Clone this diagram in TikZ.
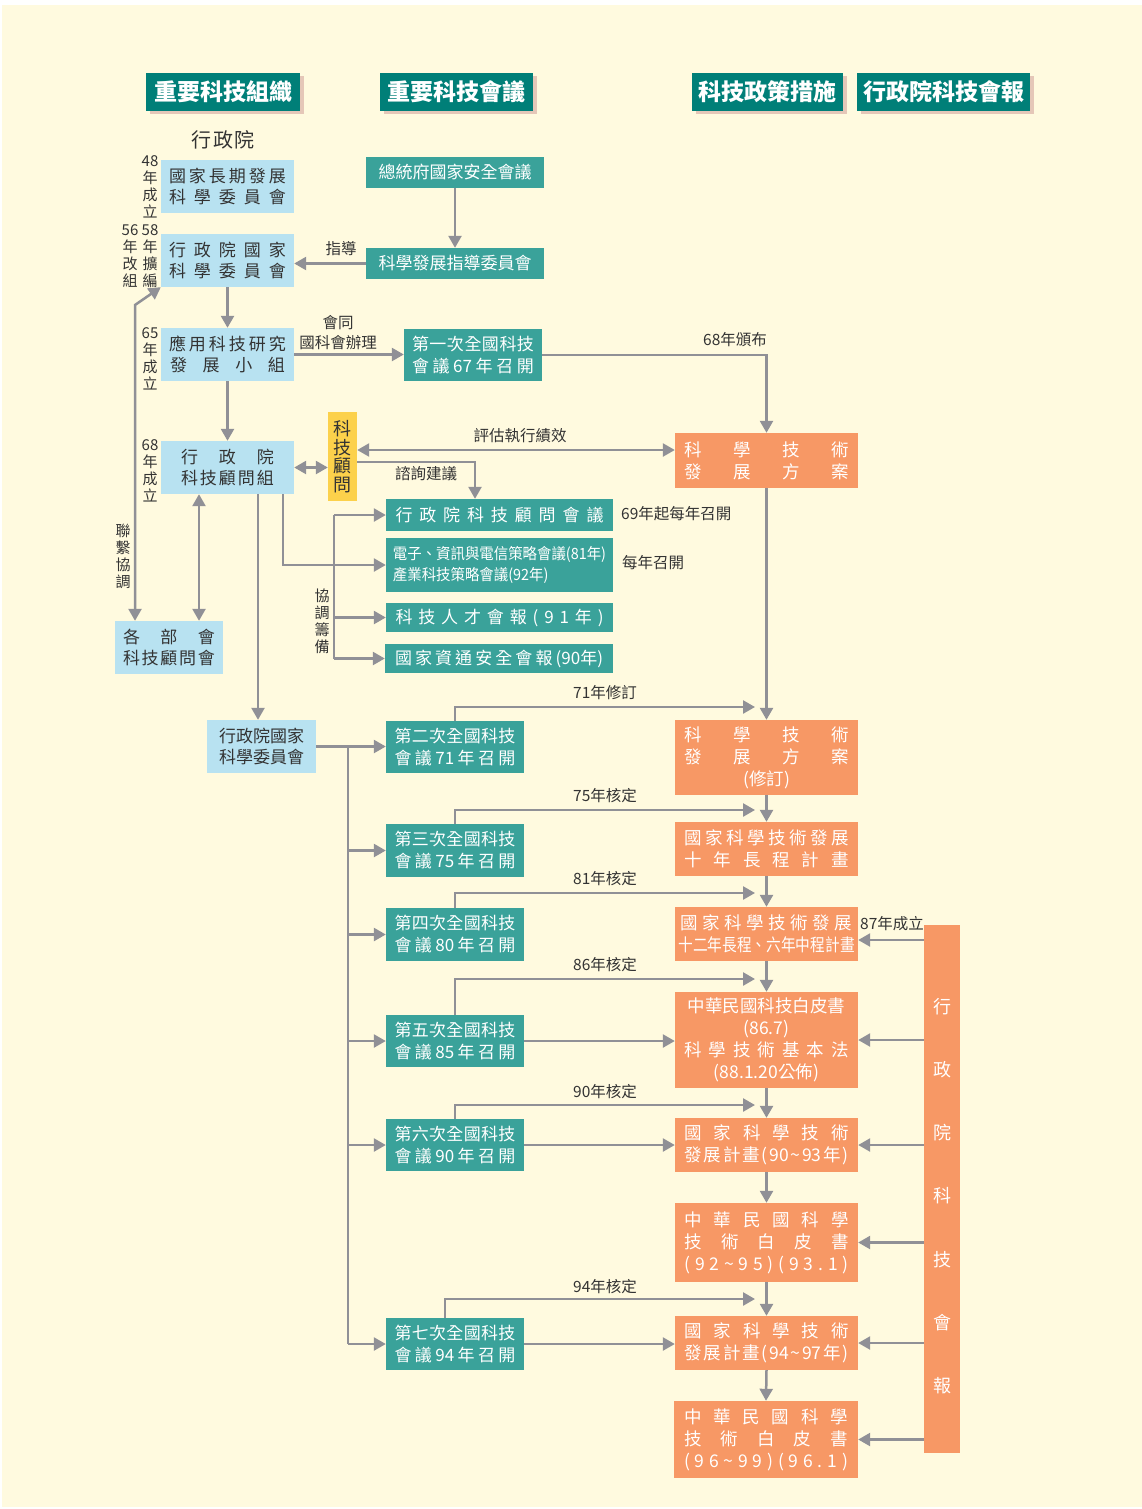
\documentclass[tikz,border=0pt]{standalone}
\usepackage{fontspec}
\usepackage{graphicx}
\usetikzlibrary{arrows.meta}
\setmainfont{Noto Sans CJK TC}
\definecolor{bg}{HTML}{FFFADF}
\definecolor{hdr}{HTML}{007F78}
\definecolor{hsh}{HTML}{E5C7B8}
\definecolor{tl}{HTML}{3AA29A}
\definecolor{lb}{HTML}{B8E2F1}
\definecolor{og}{HTML}{F79865}
\definecolor{yl}{HTML}{FCD14B}
\definecolor{ar}{HTML}{909096}
\definecolor{tx}{HTML}{333333}
\ExplSyntaxOn
\bool_new:N \l_sp_first_bool
\NewDocumentCommand\SP{mm}{\makebox[#1][s]{\bool_set_true:N \l_sp_first_bool \tl_map_inline:nn {#2}{\bool_if:NF \l_sp_first_bool {\hfill}\bool_set_false:N \l_sp_first_bool ##1}}}
\ExplSyntaxOff
\newcommand\bx[7]{\node[#6,minimum width={#4-#2},minimum height={#5-#3}] (#1) at ({(#2+#4)/2},{(#3+#5)/2}) {#7};}
\newcommand\hd[6]{\fill[hsh] ({#2+4},{#3+3}) rectangle ({#4+4},{#5+3});
  \node[hdrbox,minimum width={#4-#2},minimum height={#5-#3}] (#1) at ({(#2+#4)/2},{(#3+#5)/2}) {#6};}
\tikzset{
  hdrbox/.style={fill=hdr,text=white,inner sep=0,font=\fontsize{23}{24}\selectfont\bfseries},
  lbbox/.style={fill=lb,text=tx,inner sep=0,align=center,font=\fontsize{17}{21.5}\selectfont},
  tlbox/.style={fill=tl,text=white,inner sep=0,align=center,font=\fontsize{17}{22}\selectfont},
  ogbox/.style={fill=og,text=white,inner sep=0,align=center,font=\fontsize{17.5}{22}\selectfont},
  ybox/.style={fill=yl,text=tx,inner sep=0,align=center,font=\fontsize{18}{18.6}\selectfont},
  lbl/.style={text=tx,inner sep=0,font=\fontsize{15.5}{17}\selectfont},
  side/.style={text=tx,inner sep=0,align=center,font=\fontsize{15}{17}\selectfont},
  ln/.style={draw=ar,line width=2.5pt},
  arr/.style={ln,-{Triangle[length=12pt,width=13pt]}},
  darr/.style={ln,{Triangle[length=12pt,width=13pt]}-{Triangle[length=12pt,width=13pt]}},
}
\begin{document}
\begin{tikzpicture}[x=1pt,y=-1pt]
\useasboundingbox (0,0) rectangle (1142,1509);
\fill[white] (0,0) rectangle (1142,1509);
\fill[bg] (2,5) rectangle (1142,1507);
% headers
\hd{h1}{146}{73}{300}{111}{重要科技組織}
\hd{h2}{380}{73}{533}{111}{重要科技會議}
\hd{h3}{692}{73}{843}{111}{科技政策措施}
\hd{h4}{857}{73}{1030}{111}{行政院科技會報}
\node[lbl,font=\fontsize{20}{22}\selectfont] (xzy) at (223,140) {\SP{63pt}{行政院}};
% light blue boxes
\bx{A}{161}{160}{294}{213}{lbbox}{\SP{117pt}{國家長期發展}\\\SP{117pt}{科學委員會}}
\bx{B}{161}{234}{294}{287}{lbbox}{\SP{117pt}{行政院國家}\\\SP{117pt}{科學委員會}}
\bx{C}{161}{328}{294}{381}{lbbox}{\SP{117pt}{應用科技研究}\\\SP{115pt}{發展小組}}
\bx{D}{161}{441}{294}{494}{lbbox}{\SP{93pt}{行政院}\\\SP{93pt}{科技顧問組}}
\bx{E}{115}{621}{223}{674}{lbbox}{\SP{92pt}{各部會}\\\SP{92pt}{科技顧問會}}
\bx{F}{207}{720}{316}{773}{lbbox}{行政院國家\\科學委員會}
\bx{Y}{328}{412}{357}{501}{ybox}{科\\技\\顧\\問}
% side labels
\node[side] (sA) at (150,187) {48\\年\\成\\立};
\node[side] (sB1) at (130,256) {56\\年\\改\\組};
\node[side] (sB2) at (150,256) {58\\年\\擴\\編};
\node[side] (sC) at (150,359) {65\\年\\成\\立};
\node[side] (sD) at (150,471) {68\\年\\成\\立};
\node[side] (sE) at (123,556) {聯\\繫\\協\\調};
\node[side] (sY) at (322,621) {協\\調\\籌\\備};
% teal boxes
\bx{T1}{366}{157}{544}{188}{tlbox}{總統府國家安全會議}
\bx{T2}{366}{248}{544}{279}{tlbox}{科學發展指導委員會}
\bx{T3}{404}{329}{542}{381}{tlbox}{\SP{122pt}{第一次全國科技}\\\SP{122pt}{會議{67}年召開}}
\bx{T4}{386}{499}{613}{531}{tlbox}{\SP{208pt}{行政院科技顧問會議}}
\bx{T5}{386}{538}{613}{592}{tlbox,align=left,font=\fontsize{15.5}{21}\selectfont}{\scalebox{0.93}[1]{電子、資訊與電信策略會議(81年)}\\\scalebox{0.93}[1]{產業科技策略會議(92年)}}
\bx{T6}{386}{603}{613}{632}{tlbox}{\SP{208pt}{科技人才會報(91年)}}
\bx{T7}{385}{644}{613}{673}{tlbox}{\SP{208pt}{國家資通安全會報{(90年)}}}
\bx{T8}{386}{721}{524}{773}{tlbox}{\SP{121pt}{第二次全國科技}\\\SP{121pt}{會議{71}年召開}}
\bx{T9}{386}{824}{524}{877}{tlbox}{\SP{121pt}{第三次全國科技}\\\SP{121pt}{會議{75}年召開}}
\bx{T10}{386}{908}{524}{961}{tlbox}{\SP{121pt}{第四次全國科技}\\\SP{121pt}{會議{80}年召開}}
\bx{T11}{386}{1015}{524}{1067}{tlbox}{\SP{121pt}{第五次全國科技}\\\SP{121pt}{會議{85}年召開}}
\bx{T12}{386}{1119}{524}{1171}{tlbox}{\SP{121pt}{第六次全國科技}\\\SP{121pt}{會議{90}年召開}}
\bx{T13}{386}{1318}{524}{1370}{tlbox}{\SP{121pt}{第七次全國科技}\\\SP{121pt}{會議{94}年召開}}
% orange boxes
\bx{O1}{675}{433}{858}{488}{ogbox}{\SP{164pt}{科學技術}\\\SP{164pt}{發展方案}}
\bx{O2}{675}{720}{858}{795}{ogbox}{\SP{164pt}{科學技術}\\\SP{164pt}{發展方案}\\(修訂)}
\bx{O3}{675}{822}{858}{876}{ogbox}{\SP{164pt}{國家科學技術發展}\\\SP{164pt}{十年長程計畫}}
\bx{O4}{675}{907}{858}{961}{ogbox}{\SP{172pt}{國家科學技術發展}\\\scalebox{0.84}[1]{十二年長程、六年中程計畫}}
\bx{O5}{675}{992}{858}{1088}{ogbox}{中華民國科技白皮書\\(86.7)\\\SP{164pt}{科學技術基本法}\\(88.1.20公佈)}
\bx{O6}{675}{1118}{858}{1172}{ogbox}{\SP{164pt}{國家科學技術}\\\SP{164pt}{發展計畫({90}{\textasciitilde}{93}年)}}
\bx{O7}{675}{1203}{858}{1282}{ogbox}{\SP{164pt}{中華民國科學}\\\SP{164pt}{技術白皮書}\\\SP{164pt}{(92{\textasciitilde}95)(93.1)}}
\bx{O8}{675}{1316}{858}{1370}{ogbox}{\SP{164pt}{國家科學技術}\\\SP{164pt}{發展計畫({94}{\textasciitilde}{97}年)}}
\bx{O9}{674}{1401}{858}{1478}{ogbox}{\SP{164pt}{中華民國科學}\\\SP{164pt}{技術白皮書}\\\SP{164pt}{(96{\textasciitilde}99)(96.1)}}
\bx{R}{924}{925}{960}{1453}{ogbox}{}
\node[text=white,inner sep=0,align=center,font=\fontsize{18}{63.2}\selectfont] (Rt) at (942,1196) {行\\政\\院\\科\\技\\會\\報};
% connectors, upper part
\draw[arr] (T1.south) -- (T2.north);
\draw[arr] (T2.west) -- (T2.west -| B.east);
\node[lbl] (l1) at (341,249) {指導};
\draw[arr] (B.south) -- (C.north);
\draw[arr] (C.east) -- (C.east -| T3.west);
\node[lbl] (l2) at (338,323) {會同};
\node[lbl] (l3) at (338,343) {國科會辦理};
\draw[arr] (C.south) -- (D.north);
\draw[darr] (D.east) -- (D.east -| Y.west);
\draw[darr] (Y.east |- 0,450) -- (O1.west |- 0,450);
\node[lbl] (l4) at (520,436) {評估執行績效};
\draw[arr] (Y.east |- 0,462) -| (T4.north -| 475,0);
\node[lbl] (l5) at (426,474) {諮詢建議};
\draw[arr] (T3.east) -| (O1.north);
\node[lbl] (l6) at (735,340) {68年頒布};
\coordinate (brT) at (T4.west -| 334,0);
\coordinate (brB) at (T7.west -| 334,0);
\draw[ln] (brT) -- (brB);
\draw[arr] (brT) -- (T4.west);
\draw[arr] (T6.west -| brT) -- (T6.west);
\draw[arr] (brB) -- (T7.west);
\draw[arr] (D.south -| 283,0) |- (T5.west);
\node[lbl,anchor=west] (l7) at (621,514) {69年起每年召開};
\node[lbl,anchor=west] (l8) at (622,563) {每年召開};
\draw[arr] (D.south -| 258,0) -- (F.north -| 258,0);
\draw[darr] (D.south -| 199,0) -- (E.north -| 199,0);
\draw[darr] (E.north -| 135,0) -- (135,305) -- (B.south west);
% lower part
\draw[arr] (F.east) -- (F.east -| T8.west);
\coordinate (tr) at (F.east -| 348,0);
\draw[ln] (tr) -- (T13.west -| tr);
\draw[arr] (T9.west -| tr) -- (T9.west);
\draw[arr] (T10.west -| tr) -- (T10.west);
\draw[arr] (T11.west -| tr) -- (T11.west);
\draw[arr] (T12.west -| tr) -- (T12.west);
\draw[arr] (T13.west -| tr) -- (T13.west);
\coordinate (k71) at (755,707);
\coordinate (k75) at (755,810);
\coordinate (k81) at (755,893);
\coordinate (k86) at (755,979);
\coordinate (k90) at (755,1105);
\coordinate (k94) at (755,1299);
\draw[arr] (T8.north) |- (k71);
\draw[arr] (T9.north) |- (k75);
\draw[arr] (T10.north) |- (k81);
\draw[arr] (T11.north) |- (k86);
\draw[arr] (T12.north) |- (k90);
\draw[arr] (T13.north -| 445,0) |- (k94);
\node[lbl] (m1) at (605,693) {71年修訂};
\node[lbl] (m2) at (605,796) {75年核定};
\node[lbl] (m3) at (605,879) {81年核定};
\node[lbl] (m4) at (605,965) {86年核定};
\node[lbl] (m5) at (605,1092) {90年核定};
\node[lbl] (m6) at (605,1287) {94年核定};
\draw[arr] (O1.south) -- (O2.north);
\draw[arr] (O2.south) -- (O3.north);
\draw[arr] (O3.south) -- (O4.north);
\draw[arr] (O4.south) -- (O5.north);
\draw[arr] (O5.south) -- (O6.north);
\draw[arr] (O6.south) -- (O7.north);
\draw[arr] (O7.south) -- (O8.north);
\draw[arr] (O8.south) -- (O9.north);
\draw[arr] (T11.east) -- (T11.east -| O5.west);
\draw[arr] (T12.east) -- (T12.east -| O6.west);
\draw[arr] (T13.east) -- (T13.east -| O8.west);
\draw[arr] (R.west |- 0,940) -- (O4.east |- 0,940);
\node[lbl] (m7) at (892,924) {87年成立};
\draw[arr] (R.west |- O5.east) -- (O5.east);
\draw[arr] (R.west |- O6.east) -- (O6.east);
\draw[arr] (R.west |- O7.east) -- (O7.east);
\draw[arr] (R.west |- O8.east) -- (O8.east);
\draw[arr] (R.west |- O9.east) -- (O9.east);
\end{tikzpicture}
\end{document}
